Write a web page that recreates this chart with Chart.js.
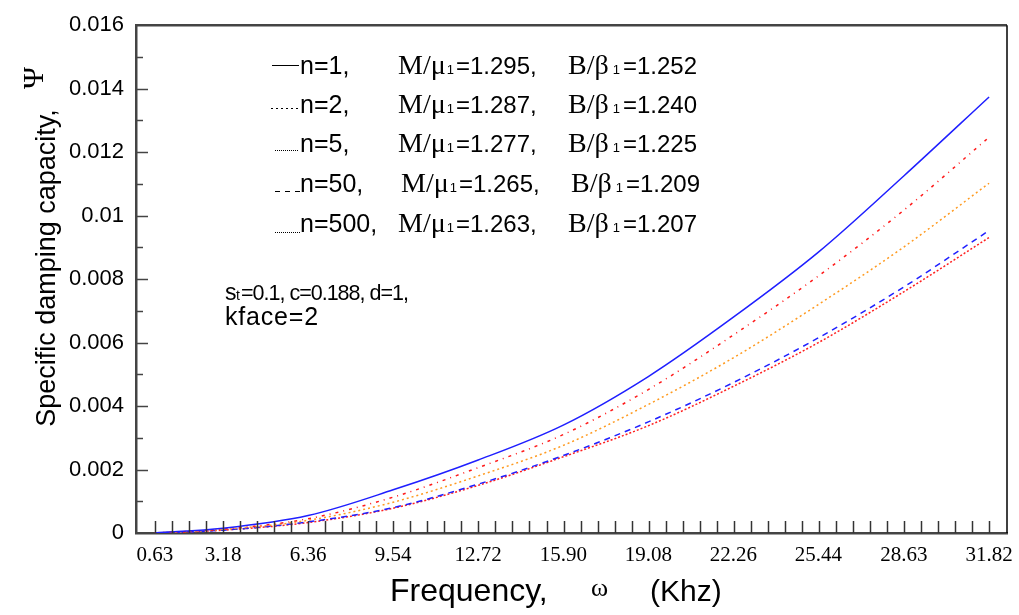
<!DOCTYPE html>
<html>
<head>
<meta charset="utf-8">
<script src="https://cdn.jsdelivr.net/npm/chart.js@4/dist/chart.umd.min.js"></script>
<style>
  html, body { margin: 0; padding: 0; background: #fff; }
  #wrap { width: 1019px; height: 615px; }
</style>
</head>
<body>
<div id="wrap"><canvas id="psiChart" width="1019" height="615"></canvas></div>
<script>
// frequency (Khz) at the labelled ticks
const freq = [0.63, 3.18, 6.36, 9.54, 12.72, 15.90, 19.08, 22.26, 25.44, 28.63, 31.82];
const xTickLabels = ["0.63", "3.18", "6.36", "9.54", "12.72", "15.90", "19.08", "22.26", "25.44", "28.63", "31.82"];
const yTickValues = [0, 0.002, 0.004, 0.006, 0.008, 0.01, 0.012, 0.014, 0.016];
const yTickLabels = ["0", "0.002", "0.004", "0.006", "0.008", "0.01", "0.012", "0.014", "0.016"];

// specific damping capacity
const psiN1   = [0, 0.00015, 0.00055, 0.00136, 0.0023, 0.0034, 0.00493, 0.0068, 0.00885, 0.01125, 0.01374];
const psiN2   = [0, 0.00012, 0.00045, 0.00113, 0.00206, 0.0031, 0.00452, 0.00624, 0.0081, 0.01017, 0.01247];
const psiN5   = [0, 0.00011, 0.0004, 0.00097, 0.0018, 0.00276, 0.00405, 0.00552, 0.0072, 0.00901, 0.01102];
const psiN50  = [0, 0.00009, 0.00035, 0.0008, 0.00154, 0.00244, 0.0035, 0.00474, 0.00615, 0.00775, 0.00953];
const psiN500 = [0, 0.00009, 0.00033, 0.00078, 0.0015, 0.0024, 0.00338, 0.00462, 0.006, 0.0076, 0.00931];

// legend texts
const legendN = ["n=1,", "n=2,", "n=5,", "n=50,", "n=500,"];
const legendM = ["=1.295,", "=1.287,", "=1.277,", "=1.265,", "=1.263,"];
const legendB = ["=1.252", "=1.240", "=1.225", "=1.209", "=1.207"];

const SANS = "'Liberation Sans', Arial, sans-serif";
const SERIF = "'Liberation Serif', 'Times New Roman', serif";

function pts(arr) {
    return arr.map((v, i) => ({ x: freq[i], y: v }));
}

function series(label, arr, color, dash) {
    return {
        label: label,
        data: pts(arr),
        borderColor: color,
        borderWidth: 1.5,
        borderDash: dash,
        pointRadius: 0,
        fill: false,
        cubicInterpolationMode: "monotone"
    };
}

// frame, inner ticks
const framePlugin = {
    id: "frame",
    afterDraw(chart) {
        const ctx = chart.ctx;
        const a = chart.chartArea;
        const xs = chart.scales.x, ys = chart.scales.y;
        ctx.save();
        ctx.strokeStyle = "#444";
        ctx.lineWidth = 2.5;
        ctx.beginPath();
        ctx.moveTo(a.left, a.top);
        ctx.lineTo(a.right, a.top);
        ctx.stroke();
        ctx.strokeStyle = "#000";
        ctx.lineWidth = 1.5;
        ctx.beginPath();
        ctx.moveTo(a.right, a.top);
        ctx.lineTo(a.right, a.bottom);
        ctx.stroke();

        // x ticks every 1/50 of the last frequency
        ctx.strokeStyle = "#333";
        ctx.lineWidth = 1.5;
        const step = freq[freq.length - 1] / 50;
        for (let k = 1; k <= 50; k++) {
            const px = Math.round(xs.getPixelForValue(k * step)) + 0.5;
            ctx.beginPath();
            ctx.moveTo(px, a.bottom);
            ctx.lineTo(px, a.bottom - 12);
            ctx.stroke();
        }
        // y ticks, major and minor
        ctx.strokeStyle = "#444";
        for (let j = 1; j < 16; j++) {
            const py = Math.round(ys.getPixelForValue(j * 0.001)) + 0.5;
            ctx.beginPath();
            ctx.moveTo(a.left, py);
            ctx.lineTo(a.left + (j % 2 === 0 ? 12 : 7), py);
            ctx.stroke();
        }
        ctx.restore();
    }
};

// titles, legend and notes
const textPlugin = {
    id: "texts",
    afterDraw(chart) {
        const ctx = chart.ctx;
        ctx.save();
        ctx.fillStyle = "#000";
        ctx.textBaseline = "alphabetic";
        ctx.textAlign = "left";

        // draws a text and returns where it ends
        function t(str, x, y, font, spacing) {
            ctx.font = font;
            ctx.letterSpacing = (spacing || 0) + "px";
            ctx.fillText(str, x, y);
            const w = ctx.measureText(str).width;
            ctx.letterSpacing = "0px";
            return x + w;
        }

        // y title
        ctx.save();
        ctx.translate(55, 268);
        ctx.rotate(-Math.PI / 2);
        ctx.textAlign = "center";
        t("Specific damping capacity,", 0, 0, "27px " + SANS);
        ctx.restore();
        ctx.save();
        ctx.translate(43, 78);
        ctx.rotate(-Math.PI / 2);
        ctx.textAlign = "center";
        t("\u03A8", 0, 0, "30px " + SERIF);
        ctx.restore();

        // x title
        t("Frequency,", 390, 601, "32px " + SANS);
        t("\u03C9", 591, 596, "26px " + SERIF);
        t("(Khz)", 650, 601, "30px " + SANS);

        // legend
        const rowY = [74, 113, 152, 192, 232];
        const lineY = [65, 108, 150, 191, 232];
        const dashes = [[], [2, 3], [1, 1], [5, 5], [1, 1]];
        const lineX = [[272, 299], [271, 300], [275, 299], [275, 302], [275, 300]];
        for (let i = 0; i < legendN.length; i++) {
            const y = rowY[i];
            const dx = i === 3 ? 3 : 0;
            ctx.save();
            ctx.strokeStyle = "#000";
            ctx.lineWidth = 1;
            ctx.setLineDash(dashes[i]);
            ctx.beginPath();
            ctx.moveTo(lineX[i][0], lineY[i] + 0.5);
            ctx.lineTo(lineX[i][1], lineY[i] + 0.5);
            ctx.stroke();
            ctx.restore();
            t(legendN[i], 300, y, "25px " + SANS);
            let e = t("M/\u03BC", 398 + dx, y, "28px " + SERIF);
            e = t("1", e + 1, y, "13px " + SANS);
            t(legendM[i], e + 2, y, "24px " + SANS);
            e = t("B/\u03B2", 568 + dx, y, "28px " + SERIF);
            e = t("1", e + 4, y, "13px " + SANS);
            t(legendB[i], e + 3, y, "24px " + SANS);
        }

        // parameters note
        t("s", 225, 300, "23px " + SANS);
        t("t", 236, 300, "14px " + SANS);
        t("=0.1, c=0.188, d=1,", 241, 300, "21.5px " + SANS, -1);
        t("kface=2", 225, 325, "25px " + SANS, 0.8);

        ctx.restore();
    }
};

const chart = new Chart(document.getElementById("psiChart"), {
    type: "line",
    data: {
        datasets: [
            series("n=1", psiN1, "#1f1fff", []),
            series("n=2", psiN2, "#ff1a1a", [3, 5, 1, 5]),
            series("n=5", psiN5, "#ff9a1f", [2, 3]),
            series("n=50", psiN50, "#2020ff", [6, 5]),
            series("n=500", psiN500, "#ff2020", [2, 2])
        ]
    },
    options: {
        responsive: false,
        animation: false,
        layout: { padding: { top: 17, right: 12, left: 0, bottom: 0 } },
        plugins: {
            legend: { display: false },
            tooltip: { enabled: false }
        },
        scales: {
            x: {
                type: "linear",
                min: -0.074,
                max: 32.49,
                grid: { display: false, drawTicks: false },
                border: { display: true, color: "#444", width: 2.5 },
                afterBuildTicks: s => { s.ticks = freq.map(v => ({ value: v })); },
                afterFit: s => { s.height = 82; s.paddingLeft = 0; s.paddingRight = 0; },
                ticks: {
                    autoSkip: false,
                    maxRotation: 0,
                    padding: 10,
                    color: "#000",
                    font: { family: SERIF, size: 21 },
                    callback: (v, i) => xTickLabels[i]
                }
            },
            y: {
                min: 0,
                max: 0.016,
                grid: { display: false, drawTicks: false },
                border: { display: true, color: "#444", width: 2.5 },
                afterBuildTicks: s => { s.ticks = yTickValues.map(v => ({ value: v })); },
                afterFit: s => { s.width = 136; },
                ticks: {
                    padding: 12,
                    color: "#000",
                    font: { family: SANS, size: 22 },
                    callback: (v, i) => yTickLabels[i]
                }
            }
        }
    },
    plugins: [framePlugin, textPlugin]
});
</script>
</body>
</html>
